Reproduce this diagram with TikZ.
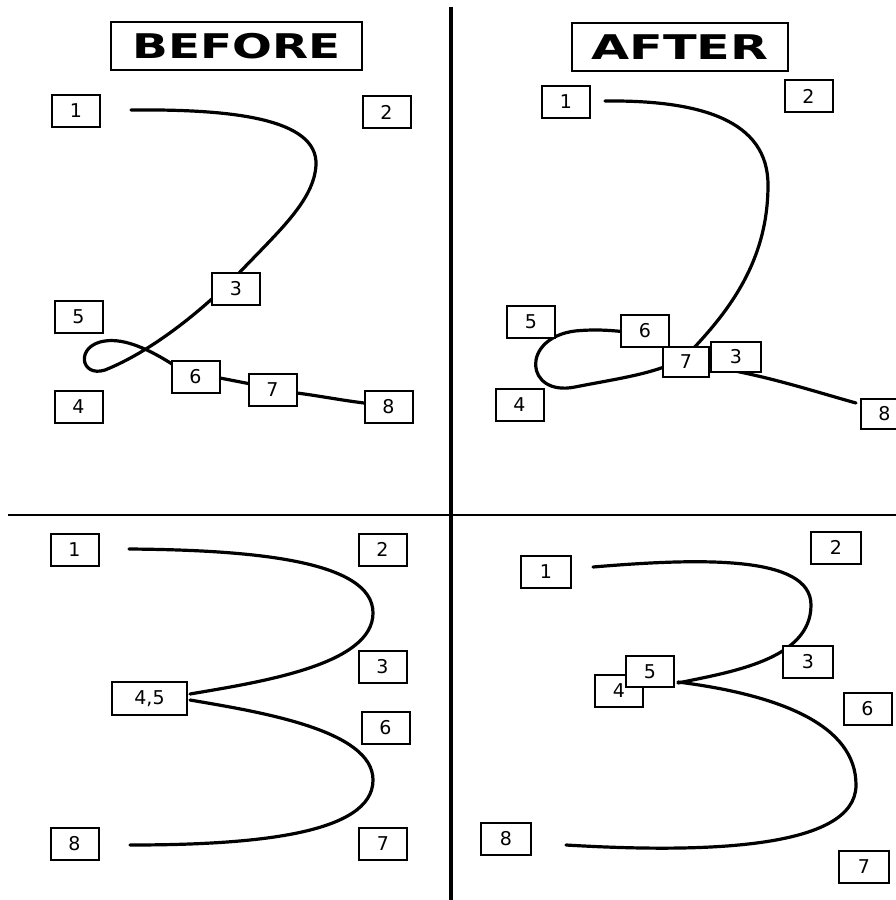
\documentclass[tikz,border=0pt]{standalone}
\usepackage{fontspec}
\usepackage{graphicx}
\setmainfont{DejaVu Sans}
\tikzset{
  lbl/.style={draw, line width=2pt, fill=white, minimum width=48pt, minimum height=32pt, inner sep=0pt, font=\fontsize{19}{19}\selectfont},
  ttl/.style={draw, line width=2.2pt, fill=white, inner sep=0pt, font=\fontsize{34}{34}\selectfont\bfseries},
  stroke/.style={line width=3.2pt, line cap=round, line join=round},
  divider/.style={line width=#1}
}
\begin{document}
\begin{tikzpicture}[x=1pt,y=-1pt]
\useasboundingbox (0,0) rectangle (896,900);
\clip (0,0) rectangle (896,900);
\fill[white] (0,0) rectangle (896,900);
% dividers
\coordinate (vtop) at (451,7);
\coordinate (vbot) at (451,900);
\coordinate (hl) at (8,515);
\coordinate (hr) at (896,515);
\draw[divider=4pt] (vtop) -- (vbot);
\draw[divider=2.4pt] (hl) -- (hr);

% ---------- top left (BEFORE) ----------
\draw[stroke] (131,110) .. controls (230,109) and (318,118) .. (316,165)
  .. controls (314,200) and (280,230) .. (240,272)
  .. controls (200,313) and (150,352) .. (105,370)
  .. controls (80,378) and (75,345) .. (105,341)
  .. controls (125,338) and (150,350) .. (172,364)
  -- (220,378) -- (297,393) .. controls (320,396) and (340,400) .. (364,403);
\node[ttl, minimum width=251pt, minimum height=48pt] (tbefore) at (236.5,46) {\scalebox{1.38}[1]{BEFORE}};
\node[lbl] (a1) at (76,111) {1};
\node[lbl] (a2) at (386.5,112) {2};
\node[lbl] (a3) at (236,288.5) {3};
\node[lbl] (a5) at (78.5,316.5) {5};
\node[lbl] (a4) at (78.5,407) {4};
\node[lbl] (a6) at (195.5,377) {6};
\node[lbl] (a7) at (272.5,390) {7};
\node[lbl] (a8) at (388.5,407) {8};

% ---------- top right (AFTER) ----------
\draw[stroke] (605,101) .. controls (700,100) and (768,120) .. (768,185)
  .. controls (768,260) and (730,310) .. (690,352)
  .. controls (670,372) and (620,378) .. (575,387)
  .. controls (525,397) and (520,338) .. (575,331)
  .. controls (595,329) and (615,330) .. (640,334);
\draw[stroke] (735,371) .. controls (780,380) and (820,393) .. (856,403);
\node[ttl, minimum width=216pt, minimum height=48pt] (tafter) at (680,47) {\scalebox{1.45}[1]{AFTER}};
\node[lbl] (b1) at (566,101.5) {1};
\node[lbl] (b2) at (808.5,96) {2};
\node[lbl] (b5) at (531,321.5) {5};
\node[lbl] (b6) at (645,330.5) {6};
\node[lbl, minimum width=46pt, minimum height=30pt] (b7) at (686,362) {7};
\node[lbl, minimum width=50pt, minimum height=30pt] (b3) at (736,357) {3};
\node[lbl] (b4) at (519.5,405) {4};
\node[lbl, minimum height=30pt] (b8) at (884.5,413.5) {8};

% ---------- bottom left ----------
\draw[stroke] (129,549) .. controls (250,550) and (373,560) .. (373,613)
  .. controls (373,665) and (260,682) .. (190,694);
\draw[stroke] (190,700) .. controls (260,712) and (373,730) .. (373,780)
  .. controls (373,835) and (250,845) .. (130,845);
\node[lbl] (c1) at (74.5,549.5) {1};
\node[lbl] (c2) at (382.5,549.5) {2};
\node[lbl] (c3) at (382.5,667) {3};
\node[lbl, minimum width=75pt, minimum height=33pt] (c45) at (149.5,698.5) {4,5};
\node[lbl] (c6) at (385.5,727.5) {6};
\node[lbl] (c7) at (383,843.5) {7};
\node[lbl] (c8) at (74.5,844) {8};

% ---------- bottom right ----------
\draw[stroke] (593,567) .. controls (700,558) and (811,555) .. (811,605)
  .. controls (811,660) and (730,672) .. (678,683);
\draw[stroke] (678,682) .. controls (780,695) and (856,725) .. (856,785)
  .. controls (856,850) and (700,853) .. (566,845);
\node[lbl, minimum width=50pt] (d2) at (836,547.5) {2};
\node[lbl, minimum width=50pt] (d1) at (546,572) {1};
\node[lbl, minimum width=50pt] (d3) at (808,662) {3};
\node[lbl] (d4) at (619,691) {4};
\node[lbl, minimum height=31pt] (d5) at (650,671.5) {5};
\node[lbl] (d6) at (867.5,709) {6};
\node[lbl, minimum width=50pt] (d8) at (506,839) {8};
\node[lbl, minimum width=50pt] (d7) at (864,867) {7};
\end{tikzpicture}
\end{document}
